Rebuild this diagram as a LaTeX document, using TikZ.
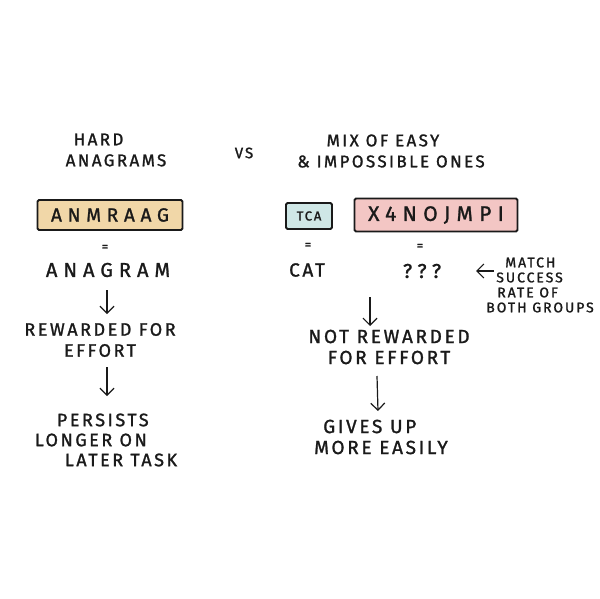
\documentclass[tikz,border=0pt]{standalone}
\usepackage{fontspec}
\setmainfont[LetterSpace=14,FakeBold=1.3]{Fira Sans}
\newfontfamily\widefont[LetterSpace=30,FakeBold=1.3]{Fira Sans}
\usetikzlibrary{arrows.meta}
\definecolor{boxorange}{HTML}{F1D7A8}
\definecolor{boxblue}{HTML}{CFE7E6}
\definecolor{boxpink}{HTML}{F3C6C4}
\definecolor{ink}{HTML}{1A1A1A}
\tikzset{
  txt/.style={text=ink, font=\fontsize{17}{21}\selectfont, align=center, inner sep=0pt},
  mid/.style={txt, font=\fontsize{19}{21}\selectfont},
  big/.style={txt, font=\widefont\fontsize{20}{22}\selectfont},
  word/.style={draw=ink, line width=1.8pt, rounded corners=1.5pt, inner sep=0pt, text=ink},
  arr/.style={draw=ink, line width=1.2pt, -{Straight Barb[length=7pt,width=14pt,line width=1.2pt]}},
  eq/.style={txt, font=\fontsize{13}{14}\selectfont}
}
\begin{document}
\begin{tikzpicture}[x=1pt,y=-1pt]
\useasboundingbox[fill=white] (0,0) rectangle (600,599);
% headings
\node[txt, align=left] (hard) at (116,150) {\hspace*{8pt}HARD\\ANAGRAMS};
\node[txt, font=\fontsize{15}{18}\selectfont] (vs) at (244,153) {VS};
\node[txt] (mix) at (391,151) {\hspace*{-16pt}MIX OF EASY\\\& IMPOSSIBLE ONES};
% word boxes
\node[word, fill=boxorange, minimum width=145pt, minimum height=30pt, font=\widefont\fontsize{19}{20}\selectfont] (anm) at (110,215) {ANMRAAG};
\node[word, fill=boxblue, minimum width=46pt, minimum height=26pt, font=\fontsize{13}{14}\selectfont] (tca) at (309,216) {TCA};
\node[word, fill=boxpink, minimum width=163pt, minimum height=33pt, font=\widefont\fontsize{21}{22}\selectfont] (xyn) at (436,215) {X4NOJMPI};
% equals and answers
\node[eq] (eq1) at (105,248) {=};
\node[big] (ana) at (108,270) {ANAGRAM};
\node[eq] (eq2) at (308,246) {=};
\node[txt, font=\fontsize{19}{21}\selectfont] (cat) at (307,270) {CAT};
\node[eq] (eq3) at (420,247) {=};
\node[big] (qqq) at (422,271) {???};
% match note
\node[txt, font=\fontsize{14}{15}\selectfont, align=left] (match) at (540,285)
  {\hspace*{19pt}MATCH\\\hspace*{10pt}SUCCESS\\\hspace*{11pt}RATE OF\\BOTH GROUPS};
\coordinate (mstart) at (494,271);
\coordinate (mend) at (476,271);
\draw[arr] (mstart) -- (mend);
% left chain
\node[txt, font=\fontsize{18}{21}\selectfont] (rew) at (100,340) {REWARDED FOR\\EFFORT};
\node[txt, font=\fontsize{18}{20}\selectfont, align=left] (per) at (106,440) {\hspace*{22pt}PERSISTS\\LONGER ON\\\hspace*{30pt}LATER TASK};
% right chain
\node[mid] (notrew) at (389,347) {NOT REWARDED\\FOR EFFORT};
\node[mid, align=left] (gives) at (381,437) {\hspace*{9pt}GIVES UP\\MORE EASILY};
% arrows
\coordinate (a1s) at (107,290);
\coordinate (a1e) at (107,314);
\coordinate (a2s) at (107,367);
\coordinate (a2e) at (107,396);
\coordinate (a3s) at (370,297);
\coordinate (a3e) at (370,326);
\coordinate (a4s) at (377,376);
\coordinate (a4e) at (378,411);
\draw[arr] (a1s) -- (a1e);
\draw[arr] (a2s) -- (a2e);
\draw[arr] (a3s) -- (a3e);
\draw[arr] (a4s) -- (a4e);
\end{tikzpicture}
\end{document}
